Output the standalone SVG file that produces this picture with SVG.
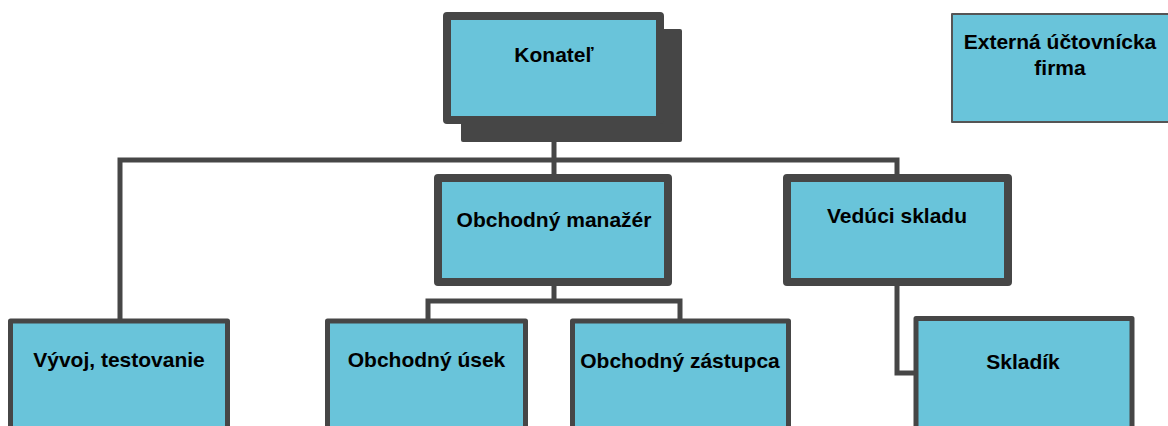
<svg xmlns="http://www.w3.org/2000/svg" width="1168" height="426" viewBox="0 0 1168 426">
<style>
.box{fill:#69C4DA;stroke:#464646;stroke-linejoin:round}
.thick{stroke-width:8}
.mid{stroke-width:5}
.thin{stroke-width:2;stroke:#555}
.lbl{font-family:"Liberation Sans",Arial,sans-serif;font-weight:bold;font-size:21px;fill:#000;text-anchor:middle}
.con{fill:none;stroke:#464646;stroke-width:5;stroke-linejoin:miter}
</style>
<rect width="1168" height="426" fill="#fff"/>
<g id="connectors">
<path class="con" d="M554 124V174M120 319V160H897V174M554 286V301M428 319V301H680V319M897 286V373H914"/>
</g>
<g id="konatel">
<rect x="461" y="29" width="221" height="113" rx="2" fill="#464646"/>
<rect class="box thick" x="447" y="16" width="213" height="104"/>
<text class="lbl" x="554" y="62">Konateľ</text>
</g>
<g id="externa">
<rect class="box thin" x="952" y="14" width="220" height="108"/>
<text class="lbl" x="1060" y="49">Externá účtovnícka</text>
<text class="lbl" x="1060" y="75">firma</text>
</g>
<g id="obchodny-manazer">
<rect class="box thick" x="438" y="178" width="230" height="104"/>
<text class="lbl" x="554" y="227">Obchodný manažér</text>
</g>
<g id="veduci-skladu">
<rect class="box thick" x="787" y="178" width="221" height="104"/>
<text class="lbl" x="897" y="223">Vedúci skladu</text>
</g>
<g id="vyvoj">
<rect class="box mid" x="10.5" y="321" width="217" height="120"/>
<text class="lbl" x="119" y="367">Vývoj, testovanie</text>
</g>
<g id="obchodny-usek">
<rect class="box mid" x="327.5" y="321" width="198" height="120"/>
<text class="lbl" x="426.5" y="367">Obchodný úsek</text>
</g>
<g id="obchodny-zastupca">
<rect class="box mid" x="572.5" y="321" width="216" height="120"/>
<text class="lbl" x="680" y="368">Obchodný zástupca</text>
</g>
<g id="skladik">
<rect class="box mid" x="916" y="318.5" width="216" height="120"/>
<text class="lbl" x="1023" y="369">Skladík</text>
</g>
</svg>
